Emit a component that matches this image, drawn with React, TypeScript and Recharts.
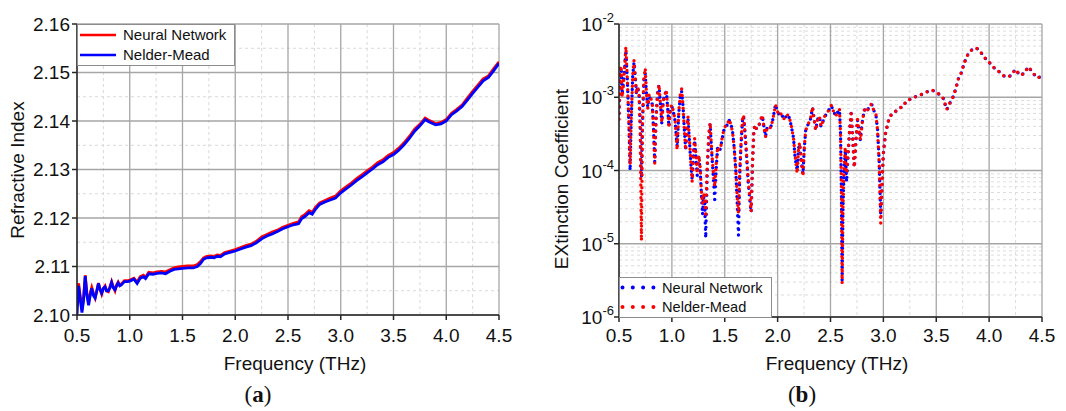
import React from 'react';
import { LineChart, Line, XAxis, YAxis, CartesianGrid, Legend } from 'recharts';

const FONT = '"Liberation Sans", Arial, Helvetica, sans-serif';
const SERIF = '"Liberation Serif", "Times New Roman", serif';
const INK = '#111';
const AXIS = '#262626';

// ---- (a) refractive index ----
const freqA = [
  0.5, 0.515, 0.53, 0.547, 0.562, 0.578, 0.594, 0.61, 0.625, 0.64,
  0.656, 0.672, 0.688, 0.703, 0.72, 0.734, 0.75, 0.766, 0.78, 0.797,
  0.812, 0.828, 0.844, 0.86, 0.875, 0.89, 0.905, 0.92, 0.95, 0.98,
  1.0, 1.04, 1.07, 1.1, 1.13, 1.15, 1.18, 1.22, 1.26, 1.3,
  1.34, 1.38, 1.42, 1.46, 1.5, 1.55, 1.6, 1.64, 1.67, 1.7,
  1.73, 1.77, 1.8, 1.83, 1.86, 1.9, 1.95, 2.0, 2.05, 2.1,
  2.15, 2.2, 2.25, 2.3, 2.35, 2.4, 2.45, 2.5, 2.55, 2.6,
  2.63, 2.66, 2.7, 2.73, 2.76, 2.8, 2.85, 2.9, 2.95, 3.0,
  3.05, 3.1, 3.15, 3.2, 3.25, 3.3, 3.35, 3.4, 3.45, 3.5,
  3.55, 3.6, 3.65, 3.7, 3.75, 3.8, 3.83, 3.87, 3.9, 3.95,
  4.0, 4.05, 4.1, 4.15, 4.2, 4.25, 4.3, 4.35, 4.4, 4.45,
  4.5,
];
const nNeural = [
  2.1055, 2.1065, 2.104, 2.101, 2.1035, 2.1082, 2.1045, 2.1025, 2.1045, 2.1057,
  2.1045, 2.1035, 2.105, 2.1066, 2.1052, 2.1043, 2.1055, 2.106, 2.105, 2.1048,
  2.1058, 2.1069, 2.1058, 2.105, 2.1062, 2.1068, 2.1062, 2.1064, 2.1071, 2.1071,
  2.1072, 2.1076, 2.1068, 2.1079, 2.1082, 2.1078, 2.1088, 2.1087, 2.1089, 2.109,
  2.1089, 2.1093, 2.1097, 2.1099, 2.11, 2.1101, 2.1101, 2.1104, 2.111, 2.1118,
  2.1121, 2.1122, 2.1121, 2.1124, 2.1123, 2.1129, 2.1132, 2.1135, 2.1139, 2.1143,
  2.1146, 2.1152, 2.1161, 2.1166, 2.1171, 2.1175, 2.1181, 2.1185, 2.1189, 2.1192,
  2.1203, 2.1207, 2.1215, 2.1212, 2.1222, 2.1231, 2.1236, 2.1241, 2.1245, 2.1256,
  2.1264, 2.1272, 2.1281, 2.1289, 2.1297, 2.1305, 2.1314, 2.132, 2.1329, 2.1335,
  2.1344, 2.1355, 2.1368, 2.1383, 2.1393, 2.1406, 2.1402, 2.1398, 2.1394, 2.1397,
  2.1403, 2.1416, 2.1424, 2.1433, 2.1447, 2.1461, 2.1474, 2.1487, 2.1493, 2.1508,
  2.1522,
];
const nNelder = [
  2.1, 2.106, 2.1035, 2.1005, 2.103, 2.108, 2.104, 2.102, 2.104, 2.1055,
  2.104, 2.1035, 2.105, 2.1065, 2.1052, 2.1045, 2.1055, 2.1058, 2.105, 2.105,
  2.1056, 2.1067, 2.1056, 2.1052, 2.106, 2.1066, 2.106, 2.1062, 2.1069, 2.1069,
  2.107, 2.1074, 2.1065, 2.1076, 2.1079, 2.1075, 2.1085, 2.1084, 2.1086, 2.1087,
  2.1085, 2.109, 2.1094, 2.1095, 2.1096, 2.1097, 2.1097, 2.11, 2.1106, 2.1115,
  2.1118, 2.1119, 2.1118, 2.1121, 2.112, 2.1126, 2.1129, 2.1132, 2.1136, 2.114,
  2.1143, 2.1149, 2.1157, 2.1163, 2.1167, 2.1172, 2.1178, 2.1182, 2.1186, 2.1188,
  2.1199, 2.1203, 2.1211, 2.1208, 2.1218, 2.1228, 2.1233, 2.1237, 2.1241, 2.1252,
  2.126, 2.1268, 2.1277, 2.1285, 2.1293, 2.1301, 2.131, 2.1316, 2.1325, 2.1331,
  2.134, 2.1351, 2.1364, 2.1379, 2.139, 2.1403, 2.1399, 2.1395, 2.1392, 2.1394,
  2.14, 2.1413, 2.1421, 2.143, 2.1443, 2.1457, 2.147, 2.1483, 2.149, 2.1504,
  2.1519,
];

// ---- (b) extinction coefficient ----
const freqB = [
  0.5, 0.51, 0.52, 0.53, 0.54, 0.55, 0.565, 0.58, 0.595, 0.605,
  0.615, 0.63, 0.642, 0.655, 0.665, 0.675, 0.69, 0.7, 0.712, 0.722,
  0.735, 0.748, 0.76, 0.772, 0.785, 0.8, 0.815, 0.828, 0.838, 0.85,
  0.865, 0.878, 0.892, 0.905, 0.918, 0.935, 0.948, 0.96, 0.972, 0.985,
  1.0, 1.015, 1.03, 1.05, 1.065, 1.08, 1.092, 1.105, 1.118, 1.13,
  1.142, 1.152, 1.165, 1.18, 1.192, 1.205, 1.215, 1.228, 1.24, 1.255,
  1.268, 1.28, 1.29, 1.3, 1.31, 1.32, 1.335, 1.35, 1.362, 1.375,
  1.39, 1.405, 1.42, 1.432, 1.445, 1.46, 1.475, 1.49, 1.505, 1.52,
  1.54, 1.56, 1.575, 1.59, 1.605, 1.62, 1.63, 1.642, 1.655, 1.668,
  1.678, 1.69, 1.705, 1.72, 1.74, 1.75, 1.762, 1.775, 1.785, 1.8,
  1.815, 1.83, 1.855, 1.87, 1.886, 1.9, 1.915, 1.935, 1.955, 1.98,
  1.995, 2.015, 2.035, 2.05, 2.065, 2.08, 2.1, 2.115, 2.13, 2.15,
  2.165, 2.185, 2.198, 2.208, 2.222, 2.24, 2.252, 2.265, 2.28, 2.295,
  2.31, 2.33, 2.345, 2.36, 2.378, 2.395, 2.41, 2.425, 2.445, 2.47,
  2.49, 2.51, 2.53, 2.55, 2.57, 2.585, 2.595, 2.603, 2.61, 2.618,
  2.628, 2.64, 2.652, 2.665, 2.68, 2.695, 2.71, 2.725, 2.74, 2.755,
  2.77, 2.782, 2.8, 2.82, 2.845, 2.865, 2.89, 2.91, 2.93, 2.945,
  2.96, 2.975, 2.99, 3.0, 3.02, 3.05, 3.08, 3.11, 3.135, 3.16,
  3.185, 3.22, 3.27, 3.32, 3.37, 3.42, 3.46, 3.5, 3.54, 3.57,
  3.585, 3.6, 3.62, 3.64, 3.665, 3.69, 3.71, 3.74, 3.76, 3.785,
  3.81, 3.85, 3.88, 3.91, 3.94, 3.97, 4.01, 4.06, 4.1, 4.15,
  4.2, 4.25, 4.29, 4.33, 4.37, 4.41, 4.45, 4.5,
];
const kNeural = [
  6.0e-4, 2.3e-3, 2.6e-3, 1.1e-3, 1.5e-3, 2.1e-3, 4.4e-3, 1.6e-3, 3.8e-4, 1.0e-4,
  4.6e-4, 2.0e-3, 3.0e-3, 1.8e-3, 1.1e-3, 1.4e-3, 1.1e-3, 4.5e-4, 8.0e-5, 4.5e-4,
  1.7e-3, 2.1e-3, 1.1e-3, 7.3e-4, 1.0e-3, 9.5e-4, 8.0e-4, 3.3e-4, 1.3e-4, 5.0e-4,
  1.2e-3, 1.45e-3, 8.0e-4, 4.4e-4, 9.0e-4, 1.1e-3, 1.2e-3, 7.2e-4, 4.0e-4, 7.0e-4,
  7.5e-4, 6.2e-4, 4.8e-4, 2.1e-4, 6.0e-4, 1.05e-3, 1.2e-3, 7.8e-4, 3.6e-4, 2.0e-4,
  3.4e-4, 5.2e-4, 2.7e-4, 1.2e-4, 7.5e-5, 1.7e-4, 2.6e-4, 1.5e-4, 8.5e-5, 1.5e-4,
  1.0e-4, 4.5e-5, 2.5e-5, 4.5e-5, 3.5e-5, 1.2e-5, 1.1e-4, 3.0e-4, 4.3e-4, 1.9e-4,
  9.0e-5, 4.0e-5, 1.1e-4, 2.0e-4, 1.8e-4, 2.0e-4, 2.7e-4, 3.5e-4, 4.0e-4, 4.1e-4,
  4.9e-4, 4.3e-4, 3.3e-4, 2.0e-4, 9.5e-5, 3.0e-5, 1.3e-5, 9.0e-5, 2.4e-4, 4.8e-4,
  5.5e-4, 3.5e-4, 1.7e-4, 7.5e-5, 3.6e-5, 2.7e-5, 1.2e-4, 3.4e-4, 4.2e-4, 3.7e-4,
  3.8e-4, 4.4e-4, 5.6e-4, 4.0e-4, 2.9e-4, 3.8e-4, 4.0e-4, 3.9e-4, 5.0e-4, 8.0e-4,
  6.5e-4, 5.8e-4, 6.0e-4, 5.3e-4, 5.0e-4, 5.5e-4, 5.8e-4, 5.0e-4, 4.0e-4, 2.8e-4,
  1.5e-4, 1.0e-4, 2.0e-4, 2.3e-4, 1.4e-4, 9.0e-5, 2.0e-4, 3.5e-4, 4.0e-4, 4.5e-4,
  5.0e-4, 7.2e-4, 5.0e-4, 3.6e-4, 5.0e-4, 5.5e-4, 4.0e-4, 4.5e-4, 5.5e-4, 6.0e-4,
  7.0e-4, 7.6e-4, 6.3e-4, 5.6e-4, 6.3e-4, 6.7e-4, 3.2e-4, 5.0e-5, 3.2e-6, 3.0e-5,
  1.0e-4, 1.9e-4, 7.0e-5, 1.5e-4, 3.4e-4, 6.0e-4, 2.8e-4, 1.1e-4, 2.5e-4, 4.9e-4,
  3.5e-4, 2.6e-4, 4.5e-4, 6.8e-4, 6.3e-4, 7.5e-4, 8.0e-4, 6.6e-4, 5.7e-4, 3.6e-4,
  1.4e-4, 2.5e-5, 8.5e-5, 1.7e-4, 3.2e-4, 4.9e-4, 6.0e-4, 6.3e-4, 6.8e-4, 7.2e-4,
  7.4e-4, 9.0e-4, 9.5e-4, 1.05e-3, 1.1e-3, 1.2e-3, 1.25e-3, 1.17e-3, 1.07e-3, 9.5e-4,
  7.9e-4, 6.8e-4, 7.9e-4, 8.9e-4, 1.05e-3, 1.4e-3, 1.8e-3, 2.2e-3, 2.8e-3, 3.5e-3,
  4.1e-3, 4.6e-3, 4.7e-3, 4.3e-3, 3.8e-3, 3.3e-3, 2.9e-3, 2.4e-3, 2.2e-3, 1.9e-3,
  1.95e-3, 2.4e-3, 2.0e-3, 2.1e-3, 2.6e-3, 2.2e-3, 1.85e-3, 1.9e-3,
];
const kNelder = [
  5.0e-4, 2.5e-3, 2.7e-3, 1.0e-3, 1.4e-3, 2.2e-3, 4.9e-3, 1.6e-3, 4.0e-4, 1.2e-4,
  5.0e-4, 2.0e-3, 3.2e-3, 1.8e-3, 1.1e-3, 1.4e-3, 1.1e-3, 4.0e-4, 1.1e-5, 4.0e-4,
  1.8e-3, 2.5e-3, 1.1e-3, 7.1e-4, 1.1e-3, 1.0e-3, 7.9e-4, 3.2e-4, 1.26e-4, 5.0e-4,
  1.1e-3, 1.5e-3, 7.9e-4, 4.5e-4, 8.9e-4, 1.1e-3, 1.26e-3, 7.1e-4, 3.8e-4, 7.1e-4,
  7.9e-4, 6.3e-4, 5.0e-4, 1.9e-4, 6.3e-4, 1.1e-3, 1.3e-3, 7.9e-4, 3.5e-4, 1.9e-4,
  3.5e-4, 5.5e-4, 2.8e-4, 1.26e-4, 7.0e-5, 1.8e-4, 2.75e-4, 1.6e-4, 9.1e-5, 1.6e-4,
  1.1e-4, 5.0e-5, 3.5e-5, 5.0e-5, 4.0e-5, 2.3e-5, 1.26e-4, 3.2e-4, 4.5e-4, 2.0e-4,
  1.0e-4, 6.0e-5, 1.26e-4, 2.1e-4, 1.9e-4, 2.0e-4, 2.8e-4, 3.5e-4, 4.0e-4, 4.0e-4,
  5.0e-4, 4.2e-4, 3.2e-4, 2.0e-4, 1.0e-4, 4.0e-5, 2.6e-5, 1.0e-4, 2.5e-4, 5.0e-4,
  5.75e-4, 3.5e-4, 1.8e-4, 7.9e-5, 4.0e-5, 2.75e-5, 1.26e-4, 3.5e-4, 4.2e-4, 3.7e-4,
  3.8e-4, 4.5e-4, 5.75e-4, 4.0e-4, 2.9e-4, 3.8e-4, 4.0e-4, 3.8e-4, 5.0e-4, 7.9e-4,
  6.6e-4, 5.6e-4, 6.0e-4, 5.4e-4, 5.0e-4, 5.6e-4, 5.75e-4, 5.0e-4, 4.0e-4, 2.8e-4,
  1.6e-4, 9.1e-5, 2.0e-4, 2.4e-4, 1.4e-4, 8.3e-5, 2.0e-4, 3.5e-4, 4.0e-4, 4.5e-4,
  5.0e-4, 7.4e-4, 5.0e-4, 3.5e-4, 5.0e-4, 5.5e-4, 4.0e-4, 4.5e-4, 5.5e-4, 6.0e-4,
  7.1e-4, 7.8e-4, 6.3e-4, 5.6e-4, 6.3e-4, 6.8e-4, 3.2e-4, 5.0e-5, 2.9e-6, 3.2e-5,
  1.0e-4, 2.1e-4, 9.1e-5, 1.6e-4, 3.5e-4, 6.0e-4, 2.8e-4, 1.1e-4, 2.5e-4, 5.0e-4,
  3.5e-4, 2.6e-4, 4.5e-4, 6.8e-4, 6.3e-4, 7.6e-4, 8.1e-4, 6.6e-4, 5.75e-4, 3.5e-4,
  1.26e-4, 1.9e-5, 7.9e-5, 1.7e-4, 3.2e-4, 4.9e-4, 6.0e-4, 6.3e-4, 6.8e-4, 7.2e-4,
  7.4e-4, 9.1e-4, 9.5e-4, 1.05e-3, 1.1e-3, 1.2e-3, 1.26e-3, 1.17e-3, 1.07e-3, 9.5e-4,
  7.9e-4, 6.8e-4, 7.9e-4, 8.9e-4, 1.05e-3, 1.4e-3, 1.8e-3, 2.2e-3, 2.8e-3, 3.5e-3,
  4.1e-3, 4.6e-3, 4.7e-3, 4.3e-3, 3.8e-3, 3.3e-3, 2.9e-3, 2.4e-3, 2.2e-3, 1.9e-3,
  1.95e-3, 2.4e-3, 2.0e-3, 2.1e-3, 2.6e-3, 2.2e-3, 1.85e-3, 1.9e-3,
];

// ---- axes ----
const xTicks = [0.5, 1.0, 1.5, 2.0, 2.5, 3.0, 3.5, 4.0, 4.5];
const xMinor = [0.75, 1.25, 1.75, 2.25, 2.75, 3.25, 3.75, 4.25];
const nTicks = [2.1, 2.11, 2.12, 2.13, 2.14, 2.15, 2.16];
const nMinor = [2.105, 2.115, 2.125, 2.135, 2.145, 2.155];
const kTicks = [1e-6, 1e-5, 1e-4, 1e-3, 1e-2];
const kMinor = [1e-6, 1e-5, 1e-4, 1e-3].flatMap((d) => [2, 3, 4, 5, 6, 7, 8, 9].map((m) => m * d));

const RED = '#ff0000';
const BLUE = '#0000ff';

const XTick = ({ x, y, payload, base }: any) => (
  <text x={x} y={y + base} textAnchor="middle" fontFamily={FONT} fontSize={19} fill={INK}>
    {Number(payload.value).toFixed(1)}
  </text>
);

const NTick = ({ x, y, payload }: any) => (
  <text x={x} y={y} dy="0.36em" textAnchor="end" fontFamily={FONT} fontSize={19} fill={INK}>
    {Number(payload.value).toFixed(2)}
  </text>
);

const PowTick = ({ x, y, payload }: any) => {
  const e = Math.round(Math.log10(payload.value));
  return (
    <text x={x + 2} y={y} dy={7} textAnchor="end" fontFamily={FONT} fontSize={19} fill={INK}>
      10
      <tspan dy={-9} fontSize={13}>{`${e}`}</tspan>
    </text>
  );
};

const axisLine = { stroke: AXIS, strokeWidth: 1.5 };

const LegendA = () => (
  <svg width={158} height={42} style={{ display: 'block' }}>
    <rect x={0.5} y={0.5} width={157} height={41} fill="#fff" stroke="#8c8c8c" />
    <line x1={3} x2={39} y1={11} y2={11} stroke={RED} strokeWidth={2.5} />
    <line x1={3} x2={39} y1={31} y2={31} stroke={BLUE} strokeWidth={2.5} />
    <text x={46} y={11} dy="0.36em" fontFamily={FONT} fontSize={15} fill={INK}>Neural Network</text>
    <text x={46} y={31} dy="0.36em" fontFamily={FONT} fontSize={15} fill={INK}>Nelder-Mead</text>
  </svg>
);

const LegendB = () => (
  <svg width={153} height={41} style={{ display: 'block' }}>
    <rect x={0.5} y={0.5} width={152} height={40} fill="#fff" stroke="#8c8c8c" />
    <line x1={3.5} x2={36} y1={10.5} y2={10.5} stroke={BLUE} strokeWidth={4} strokeLinecap="round" strokeDasharray="0 10.3" />
    <line x1={3.5} x2={36} y1={30} y2={30} stroke={RED} strokeWidth={4} strokeLinecap="round" strokeDasharray="0 10.3" />
    <text x={43} y={10.5} dy="0.36em" fontFamily={FONT} fontSize={14.6} fill={INK}>Neural Network</text>
    <text x={43} y={30} dy="0.36em" fontFamily={FONT} fontSize={14.6} fill={INK}>Nelder-Mead</text>
  </svg>
);

function RefractivePanel() {
  const data = freqA.map((f, i) => ({ f, nn: nNeural[i], nm: nNelder[i] }));
  return (
    <LineChart width={533} height={411} data={data} margin={{ top: 24, right: 34, bottom: 66, left: 0 }}>
      <CartesianGrid verticalValues={xMinor} horizontalValues={nMinor} stroke="#d9d9d9" strokeDasharray="3 3" />
      <CartesianGrid stroke="#a6a6a6" strokeWidth={1.3} />
      <XAxis dataKey="f" type="number" domain={[0.5, 4.5]} ticks={xTicks} interval={0} allowDataOverflow
        height={30} tickSize={5} tickMargin={2} axisLine={axisLine} tickLine={axisLine}
        tick={(p: any) => <XTick {...p} base={20} />} />
      <XAxis xAxisId="top" orientation="top" type="number" domain={[0.5, 4.5]} height={0}
        tick={false} tickLine={false} axisLine={axisLine} />
      <YAxis type="number" domain={[2.1, 2.16]} ticks={nTicks} interval={0} allowDataOverflow
        width={77} tickSize={5} tickMargin={2} axisLine={axisLine} tickLine={axisLine}
        tick={(p: any) => <NTick {...p} />} />
      <YAxis yAxisId="right" orientation="right" type="number" domain={[0, 1]} width={0}
        tick={false} tickLine={false} axisLine={axisLine} />
      <Line dataKey="nn" name="Neural Network" stroke={RED} strokeWidth={2.8} dot={false} isAnimationActive={false} />
      <Line dataKey="nm" name="Nelder-Mead" stroke={BLUE} strokeWidth={2.8} dot={false} isAnimationActive={false} />
      <Legend verticalAlign="middle" align="center" layout="horizontal"
        wrapperStyle={{ left: 77, top: 24, width: 'auto', height: 'auto' }} content={() => <LegendA />} />
    </LineChart>
  );
}

function ExtinctionPanel() {
  const data = freqB.map((f, i) => ({ f, nn: kNeural[i], nm: kNelder[i] }));
  return (
    <LineChart width={533} height={411} data={data} margin={{ top: 24, right: 24, bottom: 64, left: 0 }}>
      <CartesianGrid verticalValues={xMinor} horizontalValues={kMinor} stroke="#dcdcdc" strokeDasharray="3 3" />
      <CartesianGrid stroke="#a6a6a6" strokeWidth={1.3} />
      <XAxis dataKey="f" type="number" domain={[0.5, 4.5]} ticks={xTicks} interval={0} allowDataOverflow
        height={30} tickSize={5} tickMargin={2} axisLine={axisLine} tickLine={axisLine}
        tick={(p: any) => <XTick {...p} base={18} />} />
      <XAxis xAxisId="top" orientation="top" type="number" domain={[0.5, 4.5]} height={0}
        tick={false} tickLine={false} axisLine={axisLine} />
      <YAxis type="number" scale="log" domain={[1e-6, 1e-2]} ticks={kTicks} interval={0} allowDataOverflow
        width={86} tickSize={5} tickMargin={2} axisLine={axisLine} tickLine={axisLine}
        tick={(p: any) => <PowTick {...p} />} />
      <YAxis yAxisId="right" orientation="right" type="number" domain={[0, 1]} width={0}
        tick={false} tickLine={false} axisLine={axisLine} />
      <Line dataKey="nn" name="Neural Network" stroke={BLUE} strokeWidth={3.4} strokeLinecap="round"
        strokeDasharray="0 6.4" dot={false} isAnimationActive={false} />
      <Line dataKey="nm" name="Nelder-Mead" stroke={RED} strokeWidth={3.4} strokeLinecap="round"
        strokeDasharray="0 6.4" dot={false} isAnimationActive={false} />
      <Legend verticalAlign="middle" align="center" layout="horizontal"
        wrapperStyle={{ left: 86, top: 277, width: 'auto', height: 'auto' }} content={() => <LegendB />} />
    </LineChart>
  );
}

export default function App() {
  return (
    <div style={{ position: 'absolute', left: 0, top: 0, width: 1066, height: 411, background: '#fff' }}>
      <div style={{ position: 'absolute', left: 0, top: 0 }}>
        <RefractivePanel />
      </div>
      <div style={{ position: 'absolute', left: 533, top: 0 }}>
        <ExtinctionPanel />
      </div>
      <svg width={1066} height={411} style={{ position: 'absolute', left: 0, top: 0, pointerEvents: 'none' }}>
        <g fontFamily={FONT} fontSize={19} fill={INK}>
          <text x={295} y={370} textAnchor="middle">Frequency (THz)</text>
          <text x={837} y={370} textAnchor="middle">Frequency (THz)</text>
          <text transform="translate(24 170) rotate(-90)" textAnchor="middle">Refractive Index</text>
          <text transform="translate(568 179) rotate(-90)" textAnchor="middle">EXtinction Coefficient</text>
        </g>
        <g fontFamily={SERIF} fontSize={23} fill={INK}>
          <text x={258} y={402} textAnchor="middle">(<tspan fontWeight="bold">a</tspan>)</text>
          <text x={802} y={402} textAnchor="middle">(<tspan fontWeight="bold">b</tspan>)</text>
        </g>
      </svg>
    </div>
  );
}
